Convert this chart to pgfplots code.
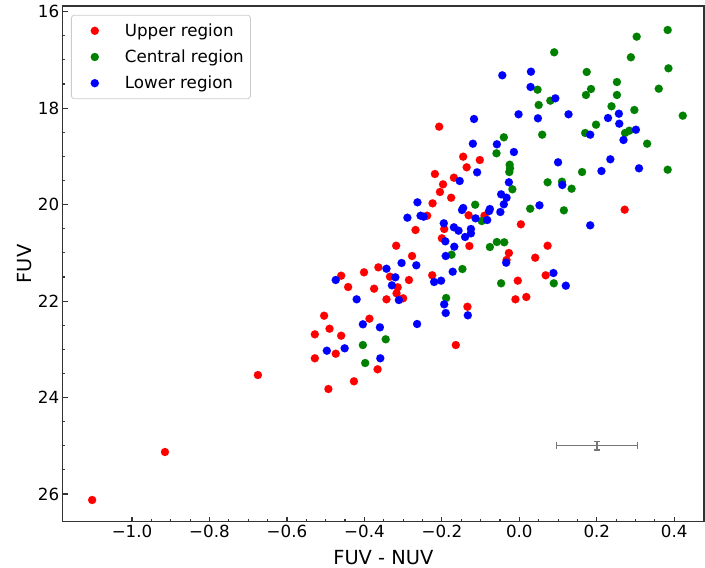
\documentclass[border=0pt]{standalone}
\usepackage{fontspec}
\setmainfont{DejaVu Sans}
\usepackage{pgfplots}
\pgfplotsset{compat=1.18}
\definecolor{mgreen}{RGB}{0,128,0}
\definecolor{ebgray}{RGB}{118,118,118}
\begin{document}
\begin{tikzpicture}
\begin{axis}[
  width=641.3pt, height=515.7pt, scale only axis,
  xmin=-1.179, xmax=0.4768,
  ymin=15.882, ymax=26.574,
  y dir=reverse,
  axis line style={black!80, line width=1.1pt},
  tick pos=left, tick align=inside,
  major tick length=4.9pt, minor tick length=2.8pt,
  every tick/.style={black!80, line width=1.1pt},
  xtick={-1,-0.8,-0.6,-0.4,-0.2,0,0.2,0.4},
  xticklabels={−1.0,−0.8,−0.6,−0.4,−0.2,0.0,0.2,0.4},
  ytick={16,18,20,22,24,26},
  yticklabels={16,18,20,22,24,26},
  minor x tick num=3, minor y tick num=3,
  ticklabel style={font=\fontsize{16.7}{20}\selectfont},
  xlabel={FUV - NUV}, ylabel={FUV},
  xlabel style={font=\fontsize{19.4}{23}\selectfont, at={(axis description cs:0.5,-0.0834)}, anchor=base},
  ylabel style={font=\fontsize{19.4}{23}\selectfont, at={(axis description cs:-0.0487,0.5)}, anchor=base, rotate=0},
  legend cell align=left,
  legend image code/.code={\path[draw=none,fill=none] (0pt,0pt) -- (46.8pt,0pt); \draw[#1, only marks, fill opacity=1, draw opacity=1] plot coordinates {(16.7pt,0pt)};},
  legend style={at={(axis description cs:0,1)}, anchor=north west, xshift=8.3pt, yshift=-8.8pt,
    draw=black!20, line width=0.8pt, rounded corners=3pt, fill=white, fill opacity=0.8, text opacity=1,
    font=\fontsize{16.7}{20}\selectfont, inner xsep=6.7pt, inner ysep=8.5pt, row sep=12pt,
    nodes={inner sep=0pt}},
]
\addplot[only marks, mark=*, color=red, mark size=4.1pt, mark options={line width=0.01pt}] coordinates {
(-0.207,18.384) (-0.145,19.006) (-0.102,19.075) (-0.136,19.226) (-0.218,19.365)
(-0.169,19.442) (-0.197,19.579) (-0.205,19.738) (-0.176,19.857) (-0.224,19.973)
(-0.238,20.230) (-0.131,20.221) (-0.090,20.230) (0.272,20.105) (-0.194,20.505)
(0.004,20.408) (-0.268,20.526) (-0.200,20.698) (-0.318,20.852) (-0.129,20.858)
(0.073,20.852) (-0.027,21.003) (0.041,21.101) (-0.277,21.065) (-0.364,21.300)
(-0.033,21.148) (-0.401,21.403) (-0.460,21.474) (-0.334,21.494) (-0.285,21.563)
(-0.225,21.465) (0.068,21.465) (-0.004,21.577) (-0.442,21.708) (-0.375,21.743)
(-0.314,21.714) (-0.317,21.839) (-0.343,21.963) (-0.300,21.942) (-0.010,21.963)
(0.018,21.915) (-0.134,22.117) (-0.504,22.303) (-0.387,22.365) (-0.490,22.573)
(-0.528,22.689) (-0.460,22.718) (-0.474,23.091) (-0.528,23.186) (-0.366,23.414)
(-0.675,23.533) (-0.427,23.663) (-0.493,23.823) (-0.164,22.911) (-0.915,25.129)
(-1.103,26.124)
};
\addlegendentry{Upper region}
\addplot[only marks, mark=*, color=mgreen, mark size=4.1pt, mark options={line width=0.01pt}] coordinates {
(0.383,16.379) (0.303,16.518) (0.090,16.842) (0.288,16.945) (0.385,17.174)
(0.174,17.250) (0.252,17.458) (0.047,17.617) (0.185,17.603) (0.172,17.727)
(0.252,17.727) (0.360,17.597) (0.080,17.845) (0.050,17.934) (0.238,17.961)
(0.297,18.038) (0.422,18.156) (0.198,18.343) (0.059,18.550) (0.170,18.515)
(0.273,18.515) (0.284,18.467) (0.330,18.737) (-0.040,18.604) (-0.059,18.936)
(-0.025,19.172) (-0.024,19.247) (-0.026,19.324) (0.162,19.324) (0.383,19.276)
(0.073,19.537) (0.110,19.525) (0.135,19.670) (-0.018,19.682) (-0.114,20.002)
(0.028,20.085) (0.115,20.118) (-0.097,20.340) (-0.058,20.775) (-0.039,20.781)
(-0.076,20.879) (-0.175,21.038) (0.089,21.631) (-0.047,21.631) (-0.147,21.335)
(-0.189,21.936) (-0.345,22.792) (-0.404,22.911) (-0.398,23.284)
};
\addlegendentry{Central region}
\addplot[only marks, mark=*, color=blue, mark size=4.1pt, mark options={line width=0.01pt}] coordinates {
(-0.044,17.319) (0.030,17.244) (0.029,17.561) (0.093,17.796) (-0.002,18.127)
(0.048,18.210) (0.127,18.127) (-0.117,18.225) (0.257,18.115) (0.229,18.204)
(0.258,18.322) (0.301,18.447) (0.183,18.550) (0.269,18.660) (-0.120,18.737)
(-0.058,18.749) (-0.014,18.909) (0.100,19.122) (0.235,19.060) (-0.109,19.330)
(0.212,19.303) (0.309,19.247) (-0.154,19.510) (-0.027,19.537) (0.111,19.593)
(-0.047,19.786) (-0.033,19.857) (-0.040,19.993) (-0.263,19.952) (0.052,20.014)
(-0.076,20.091) (-0.078,20.132) (-0.049,20.153) (-0.145,20.070) (-0.148,20.112)
(-0.289,20.271) (-0.255,20.230) (-0.247,20.250) (-0.113,20.284) (-0.083,20.319)
(-0.195,20.387) (-0.169,20.470) (-0.157,20.541) (-0.125,20.505) (-0.125,20.595)
(-0.140,20.671) (0.183,20.429) (-0.191,20.761) (-0.168,20.872) (-0.304,21.210)
(-0.266,21.258) (-0.343,21.329) (-0.190,21.065) (-0.034,21.204) (-0.172,21.391)
(-0.474,21.563) (-0.320,21.507) (-0.220,21.604) (-0.202,21.577) (0.088,21.418)
(0.120,21.681) (-0.329,21.673) (-0.311,21.978) (-0.420,21.963) (-0.194,22.067)
(-0.190,22.247) (-0.133,22.295) (-0.404,22.481) (-0.360,22.544) (-0.264,22.475)
(-0.497,23.029) (-0.451,22.979) (-0.359,23.186)
};
\addlegendentry{Lower region}
\addplot[forget plot, draw=none, mark=none, color=ebgray,
  error bars/.cd, x dir=both, x explicit, y dir=both, y explicit,
  error bar style={color=ebgray, line width=1.3pt},
  error mark options={rotate=90, mark size=3.3pt, line width=1.3pt, color=ebgray}]
  coordinates {(0.2006,25.0) +- (0.104,0.09)};
\end{axis}
\pgfresetboundingbox
\path ([shift={(-62.7pt,-46.3pt)}]current axis.south west) rectangle ([shift={(1pt,6pt)}]current axis.north east);
\end{tikzpicture}
\end{document}
